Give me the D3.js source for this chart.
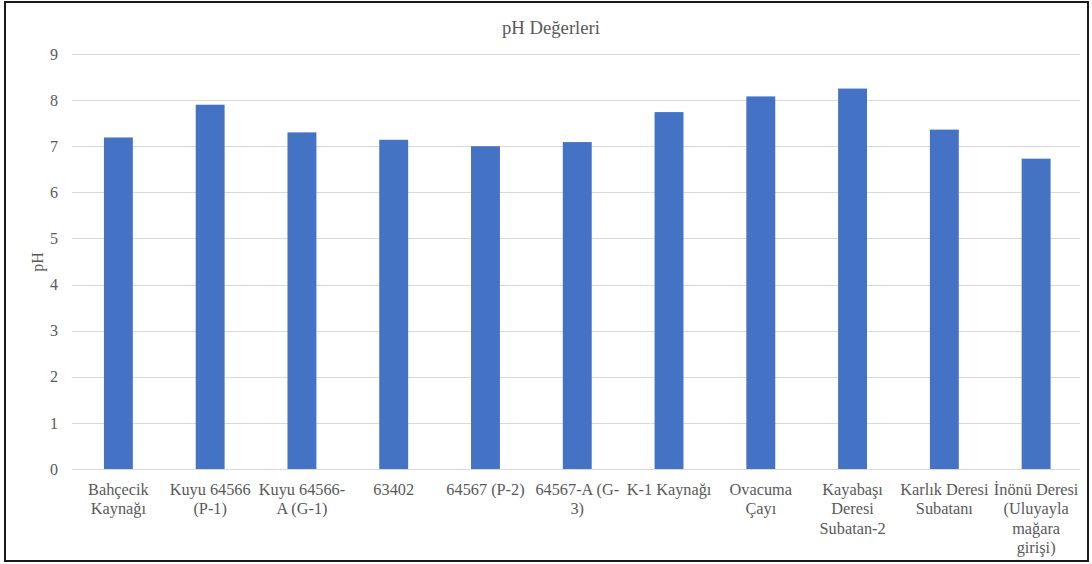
<!DOCTYPE html>
<html><head><meta charset="utf-8">
<script src="https://cdn.jsdelivr.net/npm/d3@7"></script>
<style>
html,body{margin:0;padding:0;background:#fff;}
svg text, svg tspan{font-family:"Liberation Serif","Times New Roman",serif !important;fill:#595959;}
</style></head>
<body><svg id="c" width="1092" height="564"></svg>
<script>
const categories = ["Bahçecik Kaynağı","Kuyu 64566 (P-1)","Kuyu 64566-A (G-1)","63402","64567 (P-2)","64567-A (G-3)","K-1 Kaynağı","Ovacuma Çayı","Kayabaşı Deresi Subatan-2","Karlık Deresi Subatanı","İnönü Deresi (Uluyayla mağara girişi)"];
const phValues = [7.19,7.9,7.3,7.14,7.0,7.09,7.74,8.08,8.25,7.36,6.73];
const yTicks = [0,1,2,3,4,5,6,7,8,9];
const title = "pH Değerleri";
const yLabel = "pH";

const FONT = "'Liberation Serif','Times New Roman',serif";
const svg = d3.select("#c");
svg.append("rect").attr("x",5).attr("y",2).attr("width",1083).attr("height",559)
  .attr("fill","#fff").attr("stroke","#1a1a1a").attr("stroke-width",2);

const x = d3.scaleBand().domain(categories).range([72.5,1082]).paddingInner(0.685).paddingOuter(0.3425);
const y = d3.scaleLinear().domain([0,9]).range([469,54]);

// gridlines
svg.append("g").selectAll("line").data(yTicks).join("line")
  .attr("x1",72).attr("x2",1080).attr("y1",d=>Math.round(y(d))+0.5).attr("y2",d=>Math.round(y(d))+0.5)
  .attr("stroke","#d9d9d9").attr("stroke-width",1);

// y axis labels
const yAxis = d3.axisLeft(y).tickValues(yTicks).tickSize(0).tickPadding(0).tickFormat(d3.format("d"));
const gy = svg.append("g").attr("transform","translate(58,0)").call(yAxis)
  .attr("font-family",FONT).attr("font-size",16);
gy.select(".domain").remove();
gy.selectAll("text").attr("font-size",16).attr("fill","#595959").attr("dy","0.32em");

// bars
svg.append("g").selectAll("rect").data(phValues).join("rect")
  .attr("x",(d,i)=>x(categories[i])).attr("width",x.bandwidth())
  .attr("y",d=>y(d)).attr("height",d=>y(0)-y(d)).attr("fill","#4472C4");

// x axis labels with wrapping
const xAxis = d3.axisBottom(x).tickSize(0).tickPadding(0);
const gx = svg.append("g").attr("transform","translate(0,469)").call(xAxis)
  .attr("font-family",FONT).attr("font-size",16);
gx.select(".domain").remove();
const wrapW = x.step() - 3.5;
gx.selectAll("text").each(function(d){
  const t = d3.select(this);
  t.text(null).attr("font-size",16.3).attr("fill","#595959").attr("y",0).attr("dy",null);
  const tokens = [];
  d.split(" ").forEach((w,wi)=>{
    const parts = w.split(/(?<=-)/);
    parts.forEach((p,pi)=>tokens.push({s:p, sp: pi===0 && wi>0}));
  });
  const lines=[]; let cur="";
  const tmp = t.append("tspan");
  tokens.forEach(tok=>{
    const cand = cur==="" ? tok.s : cur + (tok.sp?" ":"") + tok.s;
    tmp.text(cand);
    if(cur!=="" && tmp.node().getComputedTextLength() > wrapW){ lines.push(cur); cur = tok.s; }
    else cur = cand;
  });
  if(cur!=="") lines.push(cur);
  tmp.remove();
  lines.forEach((l,i)=>{
    t.append("tspan").attr("x",0).attr("y",25.5 + i*19.5).text(l);
  });
});

// title
svg.append("text").attr("x",551).attr("y",34).attr("text-anchor","middle")
  .attr("font-size",18.7).text(title);
// y label
svg.append("text").attr("transform","translate(43,262) rotate(-90)").attr("text-anchor","middle")
  .attr("font-size",16).text(yLabel);
</script></body></html>
